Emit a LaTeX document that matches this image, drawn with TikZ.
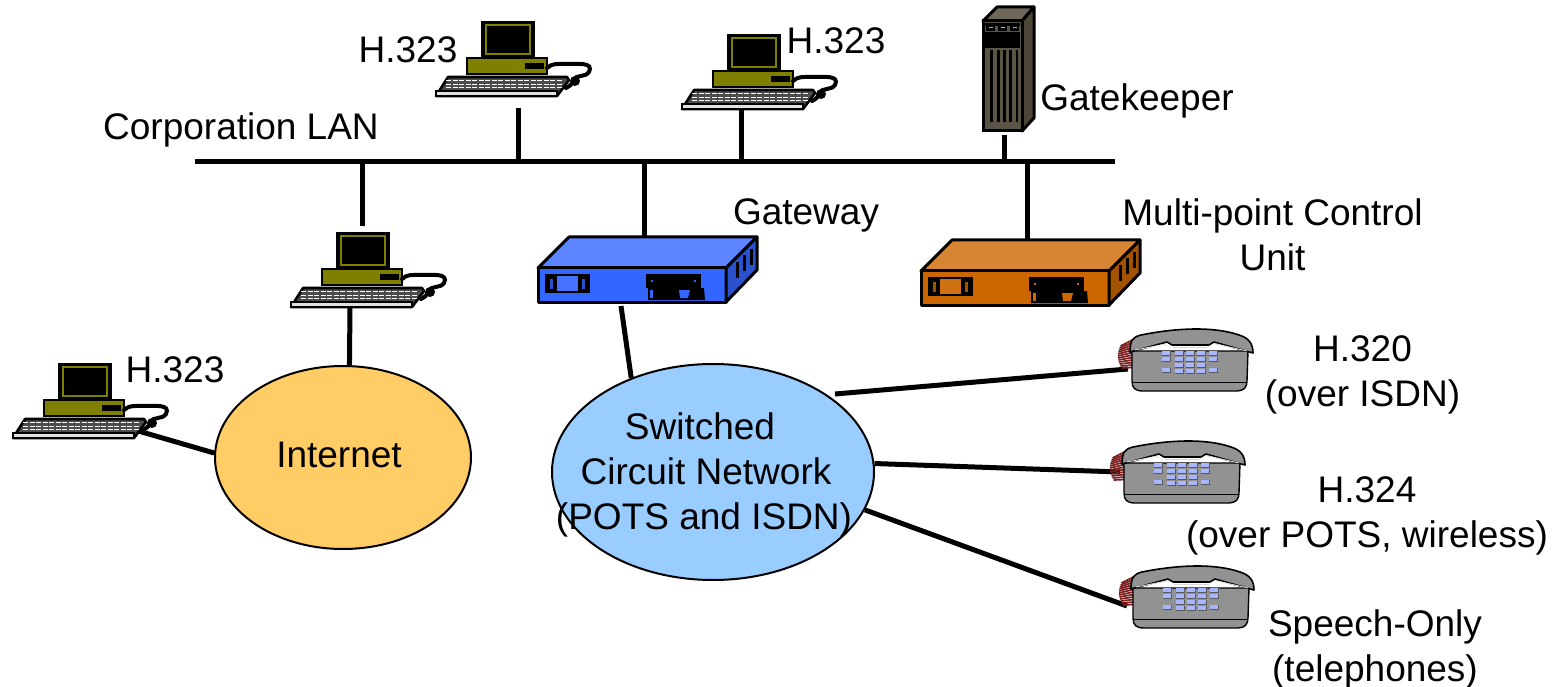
\documentclass[tikz,border=0pt]{standalone}
\usepackage{fontspec}
\setmainfont{Liberation Sans}
\usetikzlibrary{shapes.geometric}
\definecolor{olivec}{HTML}{808000}
\definecolor{blueF}{HTML}{3366FF}
\definecolor{blueT}{HTML}{5C85FF}
\definecolor{blueS}{HTML}{2A52CC}
\definecolor{orangeF}{HTML}{CC6600}
\definecolor{orangeT}{HTML}{D68533}
\definecolor{orangeS}{HTML}{A35200}
\definecolor{inetc}{HTML}{FFCC66}
\definecolor{scnc}{HTML}{99CCFF}
\definecolor{gkF}{HTML}{5A5446}
\definecolor{gkT}{HTML}{6E6858}
\definecolor{gkS}{HTML}{4C4638}
\definecolor{phoneg}{HTML}{929292}
\definecolor{keyc}{HTML}{A8B6FF}
\definecolor{cordc}{HTML}{7A1E1E}
\tikzset{
  x=1pt,y=-1pt,
  txt/.style={font=\fontsize{37}{45}\selectfont,inner sep=0pt,anchor=center,align=center},
  link/.style={line width=5pt,draw=black},
  pics/computer/.style={code={
    % origin: top-left of monitor
    \draw[line width=2.6pt,fill=black] (0,0) rectangle (52,36);
    \draw[olivec,line width=1.2pt] (4,3) rectangle (48,32);
    \draw[line width=2.6pt,fill=olivec] (-15,36) rectangle (65,52);
    \fill (43,41) rectangle (62,47);
    \draw[line width=4pt,line cap=round] (65,46) .. controls (70,41) and (76,42) .. (84,42)
       .. controls (96,42) and (112,40) .. (107,50) .. controls (103,56) and (94,52) .. (92,58) .. controls (90,62) and (88,64) .. (84,66);
    \fill (93,59) circle (5);
    \draw[line width=2.6pt,fill=black!70,line join=round] (-34,55) -- (85,55) -- (87,58) -- (75,74) -- (-46,74) -- cycle;
    \draw[line width=1.4pt,fill=black!12] (-46,69) -- (75,69) -- (75,74) -- (-46,74) -- cycle;
    \foreach \yy in {58.5,62,65.5}{\draw[white,line width=0.9pt,dash pattern=on 5pt off 1.5pt] (-36,\yy) -- (80,\yy);}
  }},
  pics/netbox/.style n args={3}{code={
    % origin: top-left of front face
    \draw[line width=3pt,line join=round,fill=#2] (0,0) -- (31,-31) -- (219,-31) -- (188,0) -- cycle;
    \draw[line width=3pt,line join=round,fill=#1] (0,0) rectangle (188,34);
    \draw[line width=3pt,line join=round,fill=#3] (188,0) -- (219,-31) -- (219,2) -- (188,34) -- cycle;
    \fill[#1!60!#2] (8,7) rectangle (51,24);
    \draw[line width=2.4pt] (8,7) rectangle (51,24);
    \fill (8,7) rectangle (19,24);
    \fill (40,7) rectangle (51,24);
    \fill[#3] (12,11) rectangle (15,21);
    \fill[#3] (44,11) rectangle (47,21);
    \fill (108,6) rectangle (163,20);
    \fill[#1] (113,12) rectangle (115,14);
    \fill[#1] (156,12) rectangle (158,14);
    \fill (110,20) -- (166,20) -- (167,32) -- (110,32) -- cycle;
    \fill[#1] (112,22) rectangle (115,30);
    \fill[#1] (141,22) -- (152,22) -- (150,30) -- (142,30) -- cycle;
    \draw[line width=3pt] (199,-6) -- (199,10);
    \draw[line width=3pt] (206,-13) -- (206,3);
    \draw[line width=3pt] (213,-19) -- (213,-3);
  }},
  pics/desk/.style={code={
    % origin: left end of the handset's lower edge
    \foreach \i in {0,...,11}{
      \pgfmathsetmacro{\bul}{-13+0.10*(\i-5)*(\i-5)}
      \draw[cordc,line width=1.7pt] (\bul,-6+2.0*\i) -- (1.5,-12+2.5*\i);
    }
    \draw[line width=1.4pt,fill=phoneg] (1,-1) -- (1,29) .. controls (1,36) and (4,39) .. (12,39)
       -- (106,39) .. controls (113,39) and (116,35) .. (116,29) -- (117,-1) -- cycle;
    \draw[line width=1pt] (2,30) -- (115,30);
    \draw[line width=1.6pt,fill=phoneg,line join=round] (-1,0) .. controls (-1,-12) and (2,-15) .. (10,-17)
       .. controls (50,-25) and (85,-25) .. (108,-17)
       .. controls (118,-14) and (122,-8) .. (122,1)
       -- (83,-10) -- (78,-7) -- (41,-7) -- (36,-10) -- cycle;
    \draw[white!70!gray,line width=0.9pt] (4,-2) -- (35,-8);
    \draw[white!70!gray,line width=0.9pt] (85,-8) -- (116,-1);
    \draw[white!70!gray,line width=0.9pt] (42,-5) -- (77,-5);
    \foreach \xx/\yy in {35/1,48/1,59/1,70/1,82/1,35/7,48/7,59/7,70/7,82/7,48/13,59/13,70/13,35/18,48/19,59/19,70/19,82/18}{
      \fill[black!65] (\xx-4.2,\yy-2) rectangle (\xx+4.6,\yy+2.6);
      \fill[keyc] (\xx-4.2,\yy-2) rectangle (\xx+4.2,\yy+1.8);}
  }},
  pics/keeper/.style={code={
    % origin: top-left of front
    \draw[line width=3pt,line join=round,fill=gkT] (0,0) -- (14,-14) -- (51,-14) -- (39,0) -- cycle;
    \draw[line width=3pt,line join=round,fill=gkS] (39,0) -- (51,-14) -- (51,97) -- (39,110) -- cycle;
    \draw[line width=3pt,fill=gkF] (0,0) rectangle (39,110);
    \fill (2,11) rectangle (37,27);
    \fill (2,2) rectangle (37,5);
    \foreach \xx in {3,15,27}{
      \fill (\xx,4) rectangle (\xx+9,10);
      \fill[gray!60] (\xx+2.5,6.5) rectangle (\xx+6.5,7.5);}
    \foreach \xx in {8.7,15.3,21.3,27.7,34}{\fill (\xx-1.4,29) rectangle (\xx+1.4,101);}
  }}
}
\begin{document}
\begin{tikzpicture}
\useasboundingbox (0,0) rectangle (1564,687);
% anchors
\coordinate (lanL) at (195,162);
\coordinate (lanR) at (1115,162);
\coordinate (c1) at (518,108);
\coordinate (c2) at (741,108);
\coordinate (gk) at (1004,135);
\coordinate (mcu) at (1027,240);
\coordinate (c3t) at (362,226);
\coordinate (gwt) at (644,236);
\coordinate (c3b) at (350,305);
\coordinate (gwb) at (621,306);
\coordinate (c4) at (135,430);
\coordinate (scnA) at (835,394);
\coordinate (p1) at (1128,369);
\coordinate (p2) at (1120,472);
\coordinate (p3) at (1127,606);
% clouds
\node[ellipse,draw,line width=2pt,fill=inetc,minimum width=256,minimum height=183,inner sep=0pt] (inet) at (343,457.5) {};
\node[ellipse,draw,line width=2pt,fill=scnc,minimum width=322,minimum height=216,inner sep=0pt] (scn) at (713,472) {};
% connectors
\draw[link] (lanL) -- (lanR);
\draw[link] (c1) -- (c1 |- lanL);
\draw[link] (c2) -- (c2 |- lanL);
\draw[link] (gk) -- (gk |- lanL);
\draw[link] (mcu) -- (mcu |- lanL);
\draw[link] (c3t) -- (c3t |- lanL);
\draw[link] (gwt) -- (gwt |- lanL);
\draw[link] (c3b) -- (inet.86);
\draw[link] (c4) -- (inet.178);
\draw[link] (gwb) -- (scn.131);
\draw[link] (scnA) -- (p1);
\draw[link] (scn.3) -- (p2);
\draw[link] (scn.-14) -- (p3);
% devices
\pic at (482,22) {computer};
\pic at (728,35) {computer};
\pic at (337,233) {computer};
\pic at (59,364) {computer};
\pic at (538,268) {netbox={blueF}{blueT}{blueS}};
\pic at (921,271) {netbox={orangeF}{orangeT}{orangeS}};
\pic at (983,21) {keeper};
\pic at (1131,352) {desk};
\pic at (1123,464) {desk};
\pic at (1132,589) {desk};
% labels
\node[txt] (l1) at (408,50) {H.323};
\node[txt] (l2) at (836,41) {H.323};
\node[txt] (l3) at (175,370) {H.323};
\node[txt] (lan) at (241,130) {Corporation LAN};
\node[txt] (lgk) at (1137,101) {Gatekeeper};
\node[txt] (lgw) at (806,215) {Gateway};
\node[txt] (lmcu) at (1272.5,235) {Multi-point Control\\Unit};
\node[txt] (linet) at (339,455) {Internet};
\node[txt] (lscn) at (704,475) {\hspace*{-8pt}Switched\\\hspace*{4pt}Circuit Network\\(POTS and ISDN)};
\node[txt] (l320) at (1362.5,375) {H.320\\(over ISDN)};
\node[txt] (l324) at (1367,515.5) {H.324\\(over POTS, wireless)};
\node[txt] (lsp) at (1375,649) {Speech-Only\\(telephones)};
\end{tikzpicture}
\end{document}
